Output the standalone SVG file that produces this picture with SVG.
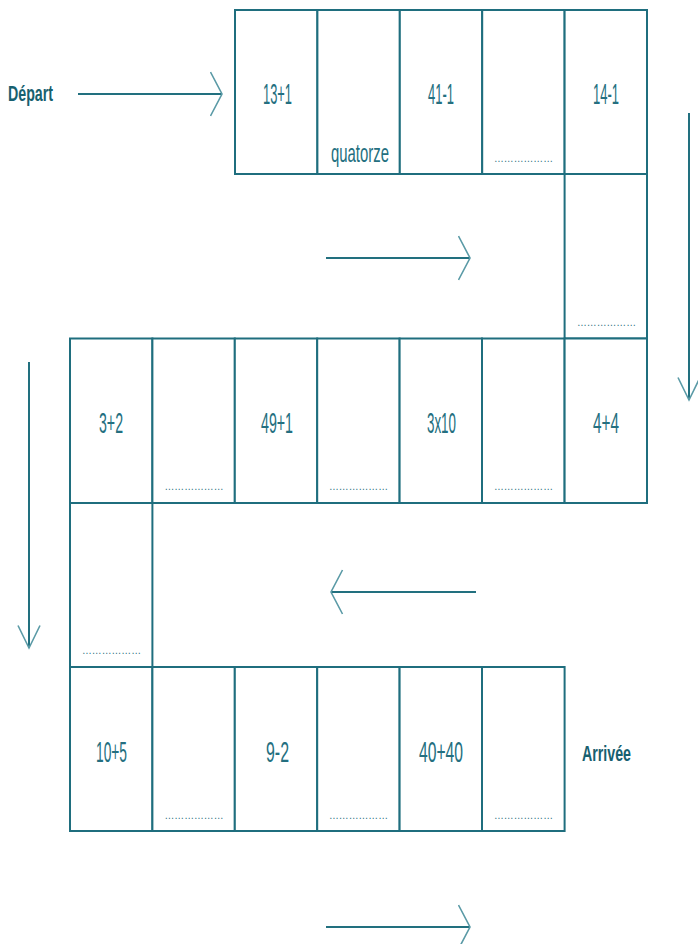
<svg xmlns="http://www.w3.org/2000/svg" width="698" height="944" viewBox="0 0 698 944">
<style>
.cell{fill:#ffffff;stroke:#1f6e7e;stroke-width:2}
.lbl{font-family:"Liberation Sans",Arial,sans-serif;font-size:30px;fill:#246f80;text-anchor:middle}
.word{font-family:"Liberation Sans",Arial,sans-serif;font-size:25px;fill:#246f80;text-anchor:middle}
.dots{font-family:"Liberation Sans",Arial,sans-serif;font-size:10px;fill:#2a7080;text-anchor:middle}
.big{font-family:"Liberation Sans",Arial,sans-serif;font-size:22px;font-weight:bold;fill:#17606f;text-anchor:middle}
.arr{fill:none;stroke:#22707f;stroke-width:2}
.h{marker-end:url(#chevH)}
.v{marker-end:url(#chevV)}
</style>
<defs>
<marker id="chevH" markerUnits="userSpaceOnUse" viewBox="0 0 14 48" refX="12.5" refY="24" markerWidth="14" markerHeight="48" orient="auto">
<path d="M1,2 L12.5,24 L1,46" fill="none" stroke="#5a9aa6" stroke-width="1.6"/>
</marker>
<marker id="chevV" markerUnits="userSpaceOnUse" viewBox="0 0 25 26" refX="23.5" refY="13" markerWidth="25" markerHeight="26" orient="auto">
<path d="M1,2 L23.5,13 L1,24" fill="none" stroke="#5a9aa6" stroke-width="1.6"/>
</marker>
</defs>
<rect width="698" height="944" fill="#ffffff"/>

<g id="connectors">
<line class="arr h" x1="78" y1="94" x2="222" y2="94"/>
<line class="arr h" x1="326" y1="258" x2="470" y2="258"/>
<line class="arr v" x1="689" y1="113" x2="689" y2="400"/>
<line class="arr v" x1="29" y1="362" x2="29" y2="648"/>
<line class="arr h" x1="476" y1="592" x2="331" y2="592"/>
<line class="arr h" x1="326" y1="927" x2="470" y2="927"/>
</g>

<g id="depart"><text class="big" x="30.5" y="101" textLength="45" lengthAdjust="spacingAndGlyphs">Départ</text></g>
<g id="arrivee"><text class="big" x="606.5" y="761" textLength="49" lengthAdjust="spacingAndGlyphs">Arrivée</text></g>

<!-- Row 1 -->
<g id="c1"><rect class="cell" x="235" y="10" width="82.4" height="164"/><text class="lbl" x="277.5" y="104" textLength="29" lengthAdjust="spacingAndGlyphs">13+1</text></g>
<g id="c2"><rect class="cell" x="317.4" y="10" width="82.4" height="164"/><text class="word" x="360" y="162" textLength="58" lengthAdjust="spacingAndGlyphs">quatorze</text></g>
<g id="c3"><rect class="cell" x="399.8" y="10" width="82.4" height="164"/><text class="lbl" x="441" y="104" textLength="26" lengthAdjust="spacingAndGlyphs">41-1</text></g>
<g id="c4"><rect class="cell" x="482.2" y="10" width="82.4" height="164"/><text class="dots" x="523.5" y="162" textLength="59" lengthAdjust="spacingAndGlyphs">………………</text></g>
<g id="c5"><rect class="cell" x="564.6" y="10" width="82.4" height="164"/><text class="lbl" x="606" y="104" textLength="26" lengthAdjust="spacingAndGlyphs">14-1</text></g>

<!-- Row 2 -->
<g id="c6"><rect class="cell" x="564.6" y="174" width="82.4" height="164.5"/><text class="dots" x="606.5" y="326" textLength="59" lengthAdjust="spacingAndGlyphs">………………</text></g>

<!-- Row 3 -->
<g id="c7"><rect class="cell" x="70" y="338.5" width="82.4" height="164.5"/><text class="lbl" x="111" y="433" textLength="24" lengthAdjust="spacingAndGlyphs">3+2</text></g>
<g id="c8"><rect class="cell" x="152.4" y="338.5" width="82.4" height="164.5"/><text class="dots" x="194" y="490" textLength="59" lengthAdjust="spacingAndGlyphs">………………</text></g>
<g id="c9"><rect class="cell" x="234.8" y="338.5" width="82.4" height="164.5"/><text class="lbl" x="277" y="433" textLength="32" lengthAdjust="spacingAndGlyphs">49+1</text></g>
<g id="c10"><rect class="cell" x="317.2" y="338.5" width="82.4" height="164.5"/><text class="dots" x="358.5" y="490" textLength="59" lengthAdjust="spacingAndGlyphs">………………</text></g>
<g id="c11"><rect class="cell" x="399.6" y="338.5" width="82.4" height="164.5"/><text class="lbl" x="441.5" y="433" textLength="29" lengthAdjust="spacingAndGlyphs">3x10</text></g>
<g id="c12"><rect class="cell" x="482" y="338.5" width="82.6" height="164.5"/><text class="dots" x="523.5" y="490" textLength="59" lengthAdjust="spacingAndGlyphs">………………</text></g>
<g id="c13"><rect class="cell" x="564.6" y="338.5" width="82.4" height="164.5"/><text class="lbl" x="606" y="433" textLength="26" lengthAdjust="spacingAndGlyphs">4+4</text></g>

<!-- Row 4 -->
<g id="c14"><rect class="cell" x="70" y="503" width="82.4" height="164"/><text class="dots" x="111.5" y="654" textLength="59" lengthAdjust="spacingAndGlyphs">………………</text></g>

<!-- Row 5 -->
<g id="c15"><rect class="cell" x="70" y="667" width="82.4" height="164"/><text class="lbl" x="111.5" y="762" textLength="31" lengthAdjust="spacingAndGlyphs">10+5</text></g>
<g id="c16"><rect class="cell" x="152.4" y="667" width="82.4" height="164"/><text class="dots" x="194" y="819" textLength="59" lengthAdjust="spacingAndGlyphs">………………</text></g>
<g id="c17"><rect class="cell" x="234.8" y="667" width="82.4" height="164"/><text class="lbl" x="277.5" y="762" textLength="23" lengthAdjust="spacingAndGlyphs">9-2</text></g>
<g id="c18"><rect class="cell" x="317.2" y="667" width="82.4" height="164"/><text class="dots" x="358.5" y="819" textLength="59" lengthAdjust="spacingAndGlyphs">………………</text></g>
<g id="c19"><rect class="cell" x="399.6" y="667" width="82.4" height="164"/><text class="lbl" x="441" y="762" textLength="44" lengthAdjust="spacingAndGlyphs">40+40</text></g>
<g id="c20"><rect class="cell" x="482" y="667" width="82.6" height="164"/><text class="dots" x="523.5" y="819" textLength="59" lengthAdjust="spacingAndGlyphs">………………</text></g>
</svg>
